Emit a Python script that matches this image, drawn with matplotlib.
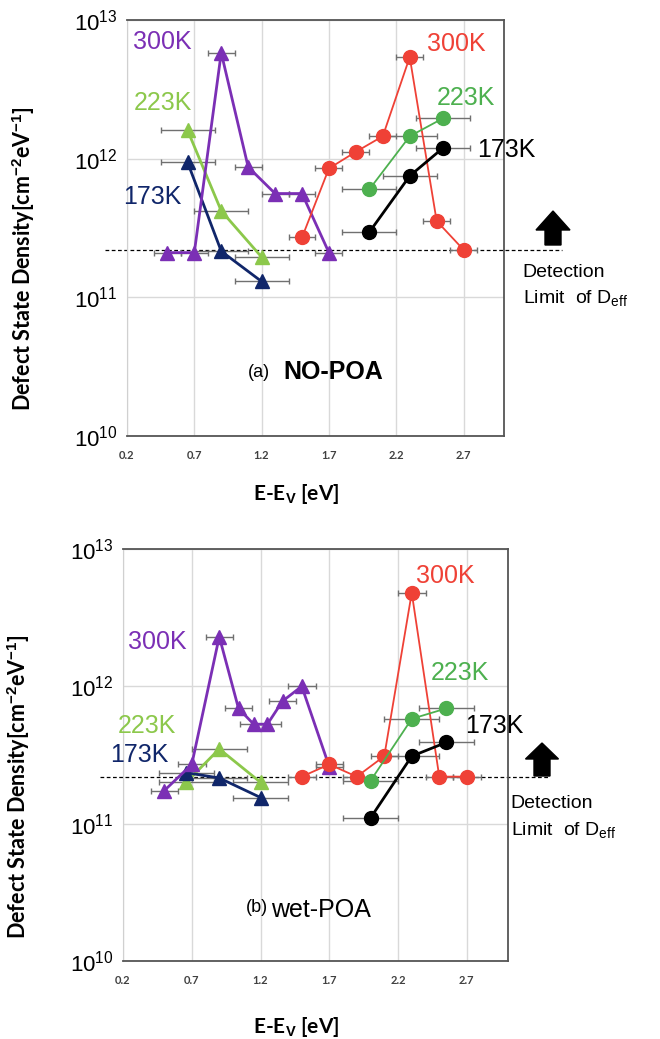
import matplotlib.pyplot as plt
from matplotlib.patches import FancyArrow

plt.rcParams['font.family'] = ['Liberation Sans', 'DejaVu Sans']
plt.rcParams['mathtext.fontset'] = 'custom'
plt.rcParams['mathtext.rm'] = 'Liberation Sans'
plt.rcParams['mathtext.bf'] = 'Liberation Sans:bold'

# E-Ev (eV) and defect state density (cm^-2 eV^-1)
# (a) NO-POA
a_tri300_x = [0.5, 0.7, 0.9, 1.1, 1.3, 1.5, 1.7]
a_tri300_y = [2.1e11, 2.1e11, 5.8e12, 8.7e11, 5.6e11, 5.6e11, 2.1e11]
a_tri223_x = [0.65, 0.9, 1.2]
a_tri223_y = [1.6e12, 4.2e11, 1.95e11]
a_tri173_x = [0.65, 0.9, 1.2]
a_tri173_y = [9.4e11, 2.15e11, 1.3e11]
a_cir300_x = [1.5, 1.7, 1.9, 2.1, 2.3, 2.5, 2.7]
a_cir300_y = [2.7e11, 8.5e11, 1.12e12, 1.45e12, 5.4e12, 3.55e11, 2.2e11]
a_cir223_x = [2.0, 2.3, 2.55]
a_cir223_y = [6.0e11, 1.45e12, 1.96e12]
a_cir173_x = [2.0, 2.3, 2.55]
a_cir173_y = [2.95e11, 7.5e11, 1.2e12]

# (b) wet-POA
b_tri300_x = [0.5, 0.7, 0.9, 1.04, 1.15, 1.25, 1.36, 1.5, 1.7]
b_tri300_y = [1.74e11, 2.7e11, 2.3e12, 6.9e11, 5.3e11, 5.3e11, 7.8e11, 1.0e12, 2.6e11]
b_tri223_x = [0.66, 0.9, 1.2]
b_tri223_y = [2.0e11, 3.5e11, 2.0e11]
b_tri173_x = [0.66, 0.9, 1.2]
b_tri173_y = [2.35e11, 2.15e11, 1.55e11]
b_cir300_x = [1.5, 1.7, 1.9, 2.1, 2.3, 2.5, 2.7]
b_cir300_y = [2.2e11, 2.7e11, 2.2e11, 3.1e11, 4.8e12, 2.2e11, 2.2e11]
b_cir223_x = [2.0, 2.3, 2.55]
b_cir223_y = [2.05e11, 5.8e11, 6.9e11]
b_cir173_x = [2.0, 2.3, 2.55]
b_cir173_y = [1.1e11, 3.1e11, 3.9e11]

err_300 = 0.1    # x error of the 300K series
err_low = 0.2    # x error of the 223K / 173K series
detect_limit = 2.2e11
x_ticks = [0.2, 0.7, 1.2, 1.7, 2.2, 2.7]
y_ticks = [1e10, 1e11, 1e12, 1e13]
y_tick_labels = [r'$10^{10}$', r'$10^{11}$', r'$10^{12}$', r'$10^{13}$']

PURPLE = '#7B2FB5'
LGREEN = '#8CC84B'
NAVY = '#10266A'
RED = '#EF4136'
GREEN = '#4DB04F'
BLACK = '#000000'
LABEL_FONT = ['Lato', 'DejaVu Sans']


def plot_series(ax, x, y, err, color, marker, lw, ms):
    ax.errorbar(x, y, xerr=err, fmt='none', ecolor='#707070', elinewidth=1,
                capsize=2, capthick=1, zorder=2)
    ax.plot(x, y, color=color, marker=marker, lw=lw, ms=ms, zorder=3)


def style_axes(ax):
    ax.set_yscale('log')
    ax.set_xlim(0.2, 3.0)
    ax.set_ylim(1e10, 1e13)
    ax.set_xticks(x_ticks)
    ax.set_xticklabels([f'{t:.1f}' for t in x_ticks], fontsize=8,
                       fontweight='bold', color='#404040', family=LABEL_FONT)
    ax.set_yticks(y_ticks)
    ax.set_yticklabels(y_tick_labels, fontsize=16)
    ax.minorticks_off()
    ax.tick_params(axis='y', length=0, pad=7)
    ax.tick_params(axis='x', length=0, pad=10)
    ax.grid(True, color='#d9d9d9', lw=1)
    ax.set_axisbelow(True)
    for side in ['top', 'right', 'bottom']:
        ax.spines[side].set_color('#555555')
        ax.spines[side].set_linewidth(1.3)
    ax.spines['left'].set_color('#d0d0d0')
    ax.set_ylabel(r'Defect State Density[cm$^{\mathbf{-2}}$eV$^{\mathbf{-1}}$]',
                  fontsize=15.5, fontweight='bold', family=LABEL_FONT)
    ax.set_xlabel(r'E-E$_{\mathbf{V}}$ [eV]', fontsize=15, fontweight='bold',
                  family=LABEL_FONT)


fig = plt.figure(figsize=(6.6, 10.39), dpi=100)
ax_a = fig.add_axes([0.1924, 0.5804, 0.5712, 0.4004])
ax_b = fig.add_axes([0.1864, 0.0751, 0.5833, 0.3965])

# ---- panel (a) NO-POA ----
ax = ax_a
plot_series(ax, a_tri223_x, a_tri223_y, err_low, LGREEN, '^', 2, 10)
plot_series(ax, a_tri173_x, a_tri173_y, err_low, NAVY, '^', 2, 10)
plot_series(ax, a_tri300_x, a_tri300_y, err_300, PURPLE, '^', 2, 10)
plot_series(ax, a_cir300_x, a_cir300_y, err_300, RED, 'o', 1.3, 10)
plot_series(ax, a_cir223_x, a_cir223_y, err_low, GREEN, 'o', 1.3, 10)
plot_series(ax, a_cir173_x, a_cir173_y, err_low, BLACK, 'o', 2, 10)
ax.plot([0.04, 3.43], [detect_limit, detect_limit], color='black', lw=0.9,
        ls=(0, (3, 2)), clip_on=False, zorder=1)
style_axes(ax)
ax.yaxis.set_label_coords(-0.239, 0.425)
ax.xaxis.set_label_coords(0.45, -0.11)

ax.text(0.245, 10**12.84, '300K', color=PURPLE, fontsize=18, va='center')
ax.text(0.25, 10**12.40, '223K', color=LGREEN, fontsize=18, va='center')
ax.text(0.17, 10**11.72, '173K', color=NAVY, fontsize=18, va='center')
ax.text(2.43, 10**12.83, '300K', color=RED, fontsize=18, va='center')
ax.text(2.5, 10**12.44, '223K', color=GREEN, fontsize=18, va='center')
ax.text(2.8, 10**12.06, '173K', color=BLACK, fontsize=18, va='center')
ax.text(1.10, 10**10.46, '(a)', fontsize=13, va='center')
ax.text(1.36, 10**10.46, 'NO-POA', fontsize=18, fontweight='bold', va='center')
ax.text(3.14, 10**11.18, 'Detection', fontsize=14, va='center')
ax.text(3.14, 10**10.99, r'Limit  of D$_{\mathregular{eff}}$', fontsize=14,
        va='center')

fig.patches.append(FancyArrow(553 / 660, 1 - 245 / 1039, 0, 34 / 1039,
                              width=16 / 660, head_width=34 / 660,
                              head_length=19 / 1039, length_includes_head=True,
                              color='black', transform=fig.transFigure))

# ---- panel (b) wet-POA ----
ax = ax_b
plot_series(ax, b_tri223_x, b_tri223_y, err_low, LGREEN, '^', 2, 10)
plot_series(ax, b_tri173_x, b_tri173_y, err_low, NAVY, '^', 2, 10)
plot_series(ax, b_tri300_x, b_tri300_y, err_300, PURPLE, '^', 2, 10)
plot_series(ax, b_cir300_x, b_cir300_y, err_300, RED, 'o', 1.3, 10)
plot_series(ax, b_cir223_x, b_cir223_y, err_low, GREEN, 'o', 1.3, 10)
plot_series(ax, b_cir173_x, b_cir173_y, err_low, BLACK, 'o', 2, 10)
ax.plot([0.03, 3.29], [detect_limit, detect_limit], color='black', lw=0.9,
        ls=(0, (3, 2)), clip_on=False, zorder=1)
style_axes(ax)
ax.yaxis.set_label_coords(-0.236, 0.422)
ax.xaxis.set_label_coords(0.45, -0.13)

ax.text(0.236, 10**12.32, '300K', color=PURPLE, fontsize=18, va='center')
ax.text(0.16, 10**11.71, '223K', color=LGREEN, fontsize=18, va='center')
ax.text(0.106, 10**11.50, '173K', color=NAVY, fontsize=18, va='center')
ax.text(2.33, 10**12.80, '300K', color=RED, fontsize=18, va='center')
ax.text(2.44, 10**12.10, '223K', color=GREEN, fontsize=18, va='center')
ax.text(2.69, 10**11.71, '173K', color=BLACK, fontsize=18, va='center')
ax.text(1.094, 10**10.39, '(b)', fontsize=13, va='center')
ax.text(1.28, 10**10.37, 'wet-POA', fontsize=18, va='center')
ax.text(3.02, 10**11.15, 'Detection', fontsize=14, va='center')
ax.text(3.02, 10**10.95, r'Limit  of D$_{\mathregular{eff}}$', fontsize=14,
        va='center')

fig.patches.append(FancyArrow(542 / 660, 1 - 776 / 1039, 0, 33 / 1039,
                              width=16 / 660, head_width=33 / 660,
                              head_length=16 / 1039, length_includes_head=True,
                              color='black', transform=fig.transFigure))

fig.savefig('out.png', dpi=100)
